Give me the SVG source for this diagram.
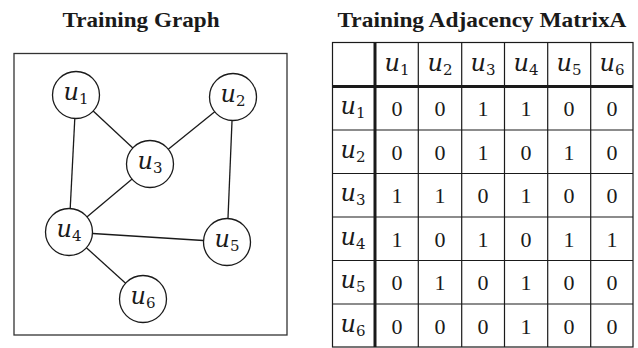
<svg xmlns="http://www.w3.org/2000/svg" width="638" height="348" viewBox="0 0 638 348">
  <style>
    .title { font-family: "Liberation Serif", serif; font-weight: bold; font-size: 21px; fill: #1a1a1a; }
    .node circle { fill: #ffffff; stroke: #1a1a1a; stroke-width: 1.3; }
    .edge { stroke: #1a1a1a; stroke-width: 1.3; fill: none; }
    .var { font-family: "DejaVu Serif", serif; font-style: italic; font-size: 24px; fill: #1a1a1a; text-anchor: middle; }
    .sub { font-style: normal; font-size: 15px; }
    .num { font-family: "Liberation Serif", serif; font-size: 22px; fill: #1a1a1a; text-anchor: middle; }
    .grid { stroke: #1a1a1a; stroke-width: 1.2; fill: none; }
    .thick { stroke: #1a1a1a; stroke-width: 3; }
  </style>

  <!-- Left panel: graph -->
  <text class="title" x="141" y="27" text-anchor="middle" textLength="157" lengthAdjust="spacingAndGlyphs">Training Graph</text>
  <rect x="14" y="53.5" width="273" height="281.5" fill="none" stroke="#333333" stroke-width="1.3"/>

  <g id="connectors">
    <line class="edge" x1="76" y1="95" x2="150" y2="164"/>
    <line class="edge" x1="76" y1="95" x2="69" y2="232"/>
    <line class="edge" x1="233" y1="97" x2="150" y2="164"/>
    <line class="edge" x1="233" y1="97" x2="227" y2="242"/>
    <line class="edge" x1="150" y1="164" x2="69" y2="232"/>
    <line class="edge" x1="69" y1="232" x2="227" y2="242"/>
    <line class="edge" x1="69" y1="232" x2="143" y2="299"/>
  </g>

  <g id="u1" class="node">
    <circle cx="76" cy="95" r="23.5"/>
    <text class="var" x="76" y="100">u<tspan class="sub" dy="4">1</tspan></text>
  </g>
  <g id="u2" class="node">
    <circle cx="233" cy="97" r="23.5"/>
    <text class="var" x="233" y="102">u<tspan class="sub" dy="4">2</tspan></text>
  </g>
  <g id="u3" class="node">
    <circle cx="150" cy="164" r="23.5"/>
    <text class="var" x="150" y="169">u<tspan class="sub" dy="4">3</tspan></text>
  </g>
  <g id="u4" class="node">
    <circle cx="69" cy="232" r="23.5"/>
    <text class="var" x="69" y="237">u<tspan class="sub" dy="4">4</tspan></text>
  </g>
  <g id="u5" class="node">
    <circle cx="227" cy="242" r="23.5"/>
    <text class="var" x="227" y="247">u<tspan class="sub" dy="4">5</tspan></text>
  </g>
  <g id="u6" class="node">
    <circle cx="143" cy="299" r="23.5"/>
    <text class="var" x="143" y="304">u<tspan class="sub" dy="4">6</tspan></text>
  </g>

  <!-- Right panel: adjacency matrix -->
  <text class="title" x="482" y="27" text-anchor="middle" textLength="289" lengthAdjust="spacingAndGlyphs">Training Adjacency MatrixA</text>

  <g id="matrix">
    <rect class="grid" x="332.5" y="42.5" width="300.5" height="304.5"/>
    <!-- column dividers -->
    <line class="grid" x1="418.3" y1="42.5" x2="418.3" y2="347"/>
    <line class="grid" x1="461.7" y1="42.5" x2="461.7" y2="347"/>
    <line class="grid" x1="504.5" y1="42.5" x2="504.5" y2="347"/>
    <line class="grid" x1="547.7" y1="42.5" x2="547.7" y2="347"/>
    <line class="grid" x1="590.7" y1="42.5" x2="590.7" y2="347"/>
    <!-- row dividers -->
    <line class="grid" x1="332.5" y1="130" x2="633" y2="130"/>
    <line class="grid" x1="332.5" y1="173.5" x2="633" y2="173.5"/>
    <line class="grid" x1="332.5" y1="217" x2="633" y2="217"/>
    <line class="grid" x1="332.5" y1="260.5" x2="633" y2="260.5"/>
    <line class="grid" x1="332.5" y1="304" x2="633" y2="304"/>
    <!-- header separators -->
    <line class="thick" x1="375" y1="42.5" x2="375" y2="347"/>
    <line class="thick" x1="332.5" y1="86.5" x2="633" y2="86.5"/>

    <!-- column headers -->
    <text class="var" x="397" y="71">u<tspan class="sub" dy="4">1</tspan></text>
    <text class="var" x="440" y="71">u<tspan class="sub" dy="4">2</tspan></text>
    <text class="var" x="483" y="71">u<tspan class="sub" dy="4">3</tspan></text>
    <text class="var" x="526" y="71">u<tspan class="sub" dy="4">4</tspan></text>
    <text class="var" x="569" y="71">u<tspan class="sub" dy="4">5</tspan></text>
    <text class="var" x="612" y="71">u<tspan class="sub" dy="4">6</tspan></text>

    <!-- row headers -->
    <text class="var" x="353" y="114">u<tspan class="sub" dy="4">1</tspan></text>
    <text class="var" x="353" y="157.5">u<tspan class="sub" dy="4">2</tspan></text>
    <text class="var" x="353" y="201">u<tspan class="sub" dy="4">3</tspan></text>
    <text class="var" x="353" y="244.5">u<tspan class="sub" dy="4">4</tspan></text>
    <text class="var" x="353" y="288">u<tspan class="sub" dy="4">5</tspan></text>
    <text class="var" x="353" y="331.5">u<tspan class="sub" dy="4">6</tspan></text>

    <!-- row u1 -->
    <text class="num" x="397" y="116">0</text><text class="num" x="440" y="116">0</text><text class="num" x="483" y="116">1</text>
    <text class="num" x="526" y="116">1</text><text class="num" x="569" y="116">0</text><text class="num" x="612" y="116">0</text>
    <!-- row u2 -->
    <text class="num" x="397" y="159.5">0</text><text class="num" x="440" y="159.5">0</text><text class="num" x="483" y="159.5">1</text>
    <text class="num" x="526" y="159.5">0</text><text class="num" x="569" y="159.5">1</text><text class="num" x="612" y="159.5">0</text>
    <!-- row u3 -->
    <text class="num" x="397" y="203">1</text><text class="num" x="440" y="203">1</text><text class="num" x="483" y="203">0</text>
    <text class="num" x="526" y="203">1</text><text class="num" x="569" y="203">0</text><text class="num" x="612" y="203">0</text>
    <!-- row u4 -->
    <text class="num" x="397" y="246.5">1</text><text class="num" x="440" y="246.5">0</text><text class="num" x="483" y="246.5">1</text>
    <text class="num" x="526" y="246.5">0</text><text class="num" x="569" y="246.5">1</text><text class="num" x="612" y="246.5">1</text>
    <!-- row u5 -->
    <text class="num" x="397" y="290">0</text><text class="num" x="440" y="290">1</text><text class="num" x="483" y="290">0</text>
    <text class="num" x="526" y="290">1</text><text class="num" x="569" y="290">0</text><text class="num" x="612" y="290">0</text>
    <!-- row u6 -->
    <text class="num" x="397" y="333.5">0</text><text class="num" x="440" y="333.5">0</text><text class="num" x="483" y="333.5">0</text>
    <text class="num" x="526" y="333.5">1</text><text class="num" x="569" y="333.5">0</text><text class="num" x="612" y="333.5">0</text>
  </g>
</svg>
